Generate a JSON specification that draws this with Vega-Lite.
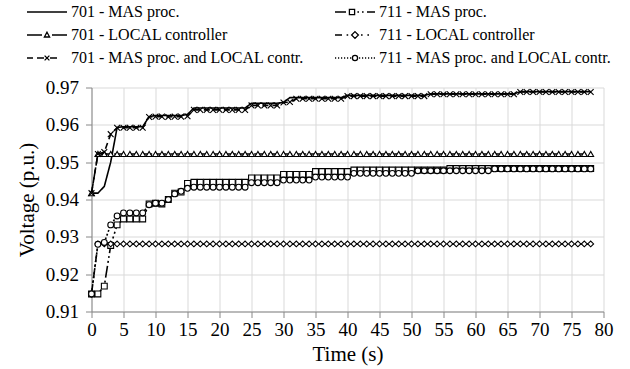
{
  "$schema": "https://vega.github.io/schema/vega-lite/v6.json",
  "width": 512,
  "height": 224,
  "autosize": {"type": "none"},
  "padding": {"left": 91.5, "top": 87.5, "right": 26.5, "bottom": 57.5},
  "background": "white",
  "data": {"values": [
    {"t":0,"a":0.9417,"b":0.9417,"c":0.9417,"d":0.9147,"e":0.9147,"f":0.9147},
    {"t":1,"a":0.9417,"b":0.9522,"c":0.9522,"d":0.9147,"e":0.9281,"f":0.928},
    {"t":2,"a":0.9435,"b":0.9522,"c":0.9527,"d":0.9168,"e":0.9281,"f":0.9285},
    {"t":3,"a":0.95,"b":0.9522,"c":0.9575,"d":0.9277,"e":0.9281,"f":0.9332},
    {"t":4,"a":0.9593,"b":0.9522,"c":0.9592,"d":0.9332,"e":0.9281,"f":0.9356},
    {"t":5,"a":0.9595,"b":0.9522,"c":0.9592,"d":0.9348,"e":0.9281,"f":0.9364},
    {"t":6,"a":0.9595,"b":0.9522,"c":0.9592,"d":0.9348,"e":0.9281,"f":0.9364},
    {"t":7,"a":0.9595,"b":0.9522,"c":0.9592,"d":0.9348,"e":0.9281,"f":0.9364},
    {"t":8,"a":0.9595,"b":0.9522,"c":0.9592,"d":0.9348,"e":0.9281,"f":0.9364},
    {"t":9,"a":0.9622,"b":0.9522,"c":0.9621,"d":0.9388,"e":0.9281,"f":0.9386},
    {"t":10,"a":0.9625,"b":0.9522,"c":0.9622,"d":0.939,"e":0.9281,"f":0.939},
    {"t":11,"a":0.9625,"b":0.9522,"c":0.9622,"d":0.9388,"e":0.9281,"f":0.939},
    {"t":12,"a":0.9625,"b":0.9522,"c":0.9621,"d":0.94,"e":0.9281,"f":0.94},
    {"t":13,"a":0.9625,"b":0.9522,"c":0.9622,"d":0.9417,"e":0.9281,"f":0.9415},
    {"t":14,"a":0.9625,"b":0.9522,"c":0.9622,"d":0.942,"e":0.9281,"f":0.9422},
    {"t":15,"a":0.9628,"b":0.9522,"c":0.9623,"d":0.9443,"e":0.9281,"f":0.943},
    {"t":16,"a":0.9645,"b":0.9522,"c":0.964,"d":0.9446,"e":0.9281,"f":0.9433},
    {"t":17,"a":0.9645,"b":0.9522,"c":0.964,"d":0.9446,"e":0.9281,"f":0.9433},
    {"t":18,"a":0.9645,"b":0.9522,"c":0.964,"d":0.9446,"e":0.9281,"f":0.9433},
    {"t":19,"a":0.9645,"b":0.9522,"c":0.964,"d":0.9446,"e":0.9281,"f":0.9433},
    {"t":20,"a":0.9645,"b":0.9522,"c":0.964,"d":0.9446,"e":0.9281,"f":0.9433},
    {"t":21,"a":0.9645,"b":0.9522,"c":0.964,"d":0.9446,"e":0.9281,"f":0.9433},
    {"t":22,"a":0.9645,"b":0.9522,"c":0.964,"d":0.9446,"e":0.9281,"f":0.9433},
    {"t":23,"a":0.9645,"b":0.9522,"c":0.964,"d":0.9446,"e":0.9281,"f":0.9433},
    {"t":24,"a":0.9645,"b":0.9522,"c":0.964,"d":0.9446,"e":0.9281,"f":0.9433},
    {"t":25,"a":0.9658,"b":0.9522,"c":0.9652,"d":0.9458,"e":0.9281,"f":0.9445},
    {"t":26,"a":0.9658,"b":0.9522,"c":0.9652,"d":0.9458,"e":0.9281,"f":0.9445},
    {"t":27,"a":0.9658,"b":0.9522,"c":0.9652,"d":0.9458,"e":0.9281,"f":0.9445},
    {"t":28,"a":0.9658,"b":0.9522,"c":0.9652,"d":0.9458,"e":0.9281,"f":0.9445},
    {"t":29,"a":0.9658,"b":0.9522,"c":0.9652,"d":0.9458,"e":0.9281,"f":0.9445},
    {"t":30,"a":0.966,"b":0.9522,"c":0.966,"d":0.9467,"e":0.9281,"f":0.9452},
    {"t":31,"a":0.9673,"b":0.9522,"c":0.9661,"d":0.9467,"e":0.9281,"f":0.9452},
    {"t":32,"a":0.9673,"b":0.9522,"c":0.967,"d":0.9467,"e":0.9281,"f":0.9452},
    {"t":33,"a":0.9673,"b":0.9522,"c":0.967,"d":0.9467,"e":0.9281,"f":0.9452},
    {"t":34,"a":0.9673,"b":0.9522,"c":0.967,"d":0.9467,"e":0.9281,"f":0.9452},
    {"t":35,"a":0.9673,"b":0.9522,"c":0.967,"d":0.9475,"e":0.9281,"f":0.946},
    {"t":36,"a":0.9673,"b":0.9522,"c":0.967,"d":0.9475,"e":0.9281,"f":0.946},
    {"t":37,"a":0.9673,"b":0.9522,"c":0.967,"d":0.9475,"e":0.9281,"f":0.946},
    {"t":38,"a":0.9673,"b":0.9522,"c":0.967,"d":0.9475,"e":0.9281,"f":0.946},
    {"t":39,"a":0.9673,"b":0.9522,"c":0.967,"d":0.9475,"e":0.9281,"f":0.946},
    {"t":40,"a":0.9679,"b":0.9522,"c":0.9677,"d":0.9475,"e":0.9281,"f":0.946},
    {"t":41,"a":0.9679,"b":0.9522,"c":0.9677,"d":0.9479,"e":0.9281,"f":0.947},
    {"t":42,"a":0.9679,"b":0.9522,"c":0.9677,"d":0.9479,"e":0.9281,"f":0.947},
    {"t":43,"a":0.9679,"b":0.9522,"c":0.9677,"d":0.9479,"e":0.9281,"f":0.947},
    {"t":44,"a":0.9679,"b":0.9522,"c":0.9677,"d":0.9479,"e":0.9281,"f":0.947},
    {"t":45,"a":0.9679,"b":0.9522,"c":0.9677,"d":0.9479,"e":0.9281,"f":0.947},
    {"t":46,"a":0.9679,"b":0.9522,"c":0.9677,"d":0.9479,"e":0.9281,"f":0.947},
    {"t":47,"a":0.9679,"b":0.9522,"c":0.9677,"d":0.9479,"e":0.9281,"f":0.947},
    {"t":48,"a":0.9679,"b":0.9522,"c":0.9677,"d":0.9479,"e":0.9281,"f":0.947},
    {"t":49,"a":0.9679,"b":0.9522,"c":0.9677,"d":0.9479,"e":0.9281,"f":0.947},
    {"t":50,"a":0.9679,"b":0.9522,"c":0.9677,"d":0.9479,"e":0.9281,"f":0.947},
    {"t":51,"a":0.9679,"b":0.9522,"c":0.9677,"d":0.9479,"e":0.9281,"f":0.9477},
    {"t":52,"a":0.9679,"b":0.9522,"c":0.9677,"d":0.9479,"e":0.9281,"f":0.9477},
    {"t":53,"a":0.9683,"b":0.9522,"c":0.9682,"d":0.9479,"e":0.9281,"f":0.9477},
    {"t":54,"a":0.9683,"b":0.9522,"c":0.9682,"d":0.9479,"e":0.9281,"f":0.9477},
    {"t":55,"a":0.9683,"b":0.9522,"c":0.9682,"d":0.9479,"e":0.9281,"f":0.9477},
    {"t":56,"a":0.9683,"b":0.9522,"c":0.9682,"d":0.9483,"e":0.9281,"f":0.9477},
    {"t":57,"a":0.9683,"b":0.9522,"c":0.9682,"d":0.9483,"e":0.9281,"f":0.9477},
    {"t":58,"a":0.9683,"b":0.9522,"c":0.9682,"d":0.9483,"e":0.9281,"f":0.9477},
    {"t":59,"a":0.9683,"b":0.9522,"c":0.9682,"d":0.9483,"e":0.9281,"f":0.9477},
    {"t":60,"a":0.9683,"b":0.9522,"c":0.9682,"d":0.9483,"e":0.9281,"f":0.9477},
    {"t":61,"a":0.9683,"b":0.9522,"c":0.9682,"d":0.9483,"e":0.9281,"f":0.9477},
    {"t":62,"a":0.9683,"b":0.9522,"c":0.9682,"d":0.9483,"e":0.9281,"f":0.9477},
    {"t":63,"a":0.9683,"b":0.9522,"c":0.9682,"d":0.9483,"e":0.9281,"f":0.9482},
    {"t":64,"a":0.9683,"b":0.9522,"c":0.9682,"d":0.9483,"e":0.9281,"f":0.9482},
    {"t":65,"a":0.9683,"b":0.9522,"c":0.9682,"d":0.9483,"e":0.9281,"f":0.9482},
    {"t":66,"a":0.9683,"b":0.9522,"c":0.9682,"d":0.9483,"e":0.9281,"f":0.9482},
    {"t":67,"a":0.9689,"b":0.9522,"c":0.9688,"d":0.9483,"e":0.9281,"f":0.9482},
    {"t":68,"a":0.9689,"b":0.9522,"c":0.9688,"d":0.9483,"e":0.9281,"f":0.9482},
    {"t":69,"a":0.9689,"b":0.9522,"c":0.9688,"d":0.9483,"e":0.9281,"f":0.9482},
    {"t":70,"a":0.9689,"b":0.9522,"c":0.9688,"d":0.9483,"e":0.9281,"f":0.9482},
    {"t":71,"a":0.9689,"b":0.9522,"c":0.9688,"d":0.9483,"e":0.9281,"f":0.9482},
    {"t":72,"a":0.9689,"b":0.9522,"c":0.9688,"d":0.9483,"e":0.9281,"f":0.9482},
    {"t":73,"a":0.9689,"b":0.9522,"c":0.9688,"d":0.9483,"e":0.9281,"f":0.9482},
    {"t":74,"a":0.9689,"b":0.9522,"c":0.9688,"d":0.9483,"e":0.9281,"f":0.9482},
    {"t":75,"a":0.9689,"b":0.9522,"c":0.9688,"d":0.9483,"e":0.9281,"f":0.9482},
    {"t":76,"a":0.9689,"b":0.9522,"c":0.9688,"d":0.9483,"e":0.9281,"f":0.9482},
    {"t":77,"a":0.9689,"b":0.9522,"c":0.9688,"d":0.9483,"e":0.9281,"f":0.9482},
    {"t":78,"a":0.9689,"b":0.9522,"c":0.9688,"d":0.9483,"e":0.9281,"f":0.9482}
  ]},
  "transform": [{"fold": ["a", "b", "c", "d", "e", "f"], "as": ["s", "v"]}],
  "encoding": {
    "x": {
      "field": "t", "type": "quantitative",
      "scale": {"domain": [0, 80], "nice": false},
      "axis": {"values": [0,5,10,15,20,25,30,35,40,45,50,55,60,65,70,75,80], "title": "Time (s)", "labelFlush": false, "labelOverlap": false, "labelPadding": 3, "titlePadding": 4}
    },
    "y": {
      "field": "v", "type": "quantitative",
      "scale": {"domain": [0.91, 0.97], "nice": false, "zero": false},
      "axis": {"values": [0.91,0.92,0.93,0.94,0.95,0.96,0.97], "format": ".2f", "title": "Voltage (p.u.)", "labelOverlap": false, "labelPadding": 7, "titlePadding": 8}
    }
  },
  "layer": [
    {
      "mark": {"type": "line", "stroke": "black", "strokeWidth": 1.6},
      "encoding": {
        "strokeDash": {"field": "s", "type": "nominal",
          "scale": {"domain": ["a","b","c","d","e","f"], "range": [[1,0],[10,4],[6,4],[12,3,2,3,2,3],[8,3,2,3],[2,2]]},
          "legend": null}
      }
    },
    {
      "transform": [{"filter": "datum.s !== 'a'"}],
      "mark": {"type": "point", "filled": true, "fill": "white", "stroke": "black", "strokeWidth": 1.1, "size": 34, "opacity": 1},
      "encoding": {
        "shape": {"field": "s", "type": "nominal",
          "scale": {"domain": ["b","c","d","e","f"], "range": ["triangle-up", "M-1,-1L1,1M-1,1L1,-1", "square", "diamond", "circle"]},
          "legend": null}
      }
    },
    {
      "transform": [{"filter": "datum.t == 78"}],
      "mark": {"type": "point", "filled": false, "color": "black", "strokeWidth": 1.3, "size": 1600, "opacity": 1, "clip": true},
      "encoding": {
        "x": {"datum": 1000, "type": "quantitative"},
        "shape": {"field": "s", "type": "nominal",
          "scale": {"domain": ["a","b","c","d","e","f"], "range": [
            "M-1,0L1,0",
            "M-1,0L-0.25,0M0.25,0L1,0M0,-0.14L0.13,0.1L-0.13,0.1Z",
            "M-1,0L-0.7,0M-0.5,0L-0.15,0M0.15,0L0.5,0M-0.12,-0.12L0.12,0.12M-0.12,0.12L0.12,-0.12",
            "M-1,0L-0.45,0M-0.28,-0.13H-0.02V0.13H-0.28ZM0.12,0L0.2,0M0.35,0L0.43,0M0.6,0L1,0",
            "M-1,0L-0.65,0M-0.42,0L-0.34,0M0,-0.17L0.17,0L0,0.17L-0.17,0ZM0.3,0L0.38,0M0.62,0L0.7,0",
            "M-1,0L-0.94,0M-0.85,0L-0.79,0M-0.7,0L-0.64,0M-0.55,0L-0.49,0M-0.4,0L-0.34,0M-0.25,0L-0.19,0M0.13,0A0.13,0.13 0 1,1 -0.13,0A0.13,0.13 0 1,1 0.13,0ZM0.2,0L0.26,0M0.35,0L0.41,0M0.5,0L0.56,0M0.65,0L0.71,0M0.8,0L0.86,0M0.94,0L1,0"
          ]},
          "legend": {
            "orient": "none", "legendX": -65.5, "legendY": -87, "direction": "vertical",
            "columns": 2, "columnPadding": 30, "rowPadding": 0, "clipHeight": 23,
            "symbolSize": 1600, "symbolStrokeWidth": 1.3,
            "labelFont": "Liberation Serif", "labelFontSize": 16, "labelColor": "black", "labelOffset": 3, "labelLimit": 400,
            "title": null, "padding": 0,
            "labelExpr": "datum.label == 'a' ? '701 - MAS proc.' : datum.label == 'b' ? '701 - LOCAL controller' : datum.label == 'c' ? '701 - MAS proc. and LOCAL contr.' : datum.label == 'd' ? '711 - MAS proc.' : datum.label == 'e' ? '711 - LOCAL controller' : '711 - MAS proc. and LOCAL contr.'"
          }
        }
      }
    }
  ],
  "resolve": {"scale": {"shape": "independent"}, "legend": {"shape": "independent"}},
  "config": {
    "view": {"stroke": null},
    "axis": {
      "labelFont": "Liberation Serif", "labelFontSize": 19, "labelColor": "black",
      "titleFont": "Liberation Serif", "titleFontSize": 21, "titleFontWeight": "normal", "titleColor": "black",
      "domainColor": "#888888", "tickColor": "#888888", "tickSize": 6, "gridColor": "#d9d9d9", "grid": true
    }
  }
}
